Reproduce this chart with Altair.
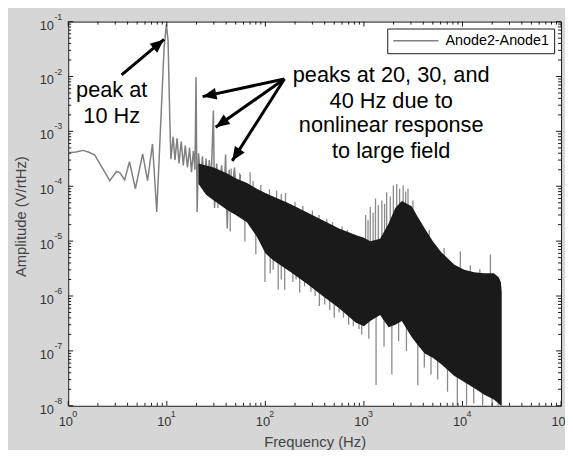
import altair as alt
import pandas as pd

FONT = "Liberation Sans"
INK = "#1a1a1a"
GRAYLINE = "#808080"

# ---- low-frequency trace (Hz, V/rtHz) ----
line_f = [1.0, 1.2, 1.42, 1.6, 1.86, 2.2, 2.64, 3.08, 3.35, 3.73, 4.18, 4.8, 5.69, 6.38,
          7.16, 7.91, 8.8, 9.4, 9.9, 10.3, 10.7, 11.0, 11.6, 12.1, 12.7, 13.3, 14.0, 14.7,
          15.4, 16.2, 17.0, 17.8, 18.6, 19.3, 19.8, 20.3, 21.0, 22.0, 23.0, 24.0, 25.0,
          26.0, 27.0, 28.0, 29.7, 30.5, 32.0, 34.0, 36.0, 38.0, 39.5, 41.0, 43.0, 45.0,
          48.6, 52.0, 56.0]
line_a = [4.1e-4, 4.2e-4, 4.5e-4, 4.2e-4, 3.7e-4, 2.2e-4, 1.26e-4, 1.86e-4, 1.75e-4, 1.3e-4,
          2.8e-4, 9e-5, 3.9e-4, 1.27e-4, 5.9e-4, 3.4e-5, 2.5e-3, 3.5e-2, 8.9e-2, 4.5e-2,
          2e-3, 3.1e-4, 8e-4, 3e-4, 7.5e-4, 2.6e-4, 6.5e-4, 2.4e-4, 5.5e-4, 2.2e-4, 5e-4,
          1.8e-4, 4.4e-4, 2e-4, 9.8e-3, 3.4e-5, 4e-4, 1.3e-4, 3.5e-4, 8e-5, 3.2e-4, 1.1e-4,
          3e-4, 9e-5, 2.4e-3, 4e-5, 2.6e-4, 7e-5, 2.4e-4, 6e-5, 3.8e-4, 1.7e-5, 2e-4, 5e-5,
          2.2e-4, 4e-5, 1.6e-4]

# ---- dense noise band: upper / lower envelope ----
band_f = [21, 25, 30, 41, 50, 65, 82, 100, 120, 177, 260, 382, 560, 824, 1000, 1160, 1460,
          1780, 2080, 2420, 3050, 3500, 4140, 5000, 6090, 8280, 10420, 13100, 16500, 20800,
          23300, 24500, 25000]
band_hi = [2.6e-4, 2.4e-4, 2.2e-4, 1.7e-4, 1.4e-4, 1.15e-4, 9e-5, 7.5e-5, 6.5e-5, 4.8e-5,
           3.4e-5, 2.4e-5, 1.7e-5, 1.3e-5, 1.15e-5, 1.0e-5, 1.1e-5, 2.1e-5, 4.0e-5, 5.4e-5,
           4.3e-5, 2.8e-5, 1.7e-5, 1.0e-5, 6.3e-6, 3.7e-6, 3.0e-6, 2.7e-6, 2.6e-6, 2.6e-6,
           2.2e-6, 1.8e-6, 1.2e-6]
band_lo = [1.1e-4, 7e-5, 5.5e-5, 3.7e-5, 3.0e-5, 2.2e-5, 1.2e-5, 6e-6, 4.5e-6, 2.8e-6,
           1.7e-6, 1.0e-6, 6e-7, 3.3e-7, 2.8e-7, 3.5e-7, 4.5e-7, 2.7e-7, 3e-7, 3.5e-7,
           1.8e-7, 1.3e-7, 9e-8, 7.5e-8, 5.7e-8, 3.5e-8, 2.7e-8, 2.1e-8, 1.6e-8, 1.3e-8,
           1.1e-8, 1.0e-8, 1.0e-8]

# ---- individual spikes sticking out of the band ----
spike_f = [33, 44, 62, 80, 99, 112, 120, 135, 145, 157, 190, 205, 223, 250, 290, 320, 353,
           400, 450, 500, 560, 620, 700, 780, 890, 950, 1120, 1328, 1600, 1920, 2250, 2700,
           3520, 4100, 4790, 5600, 7050, 8870, 11000, 13000, 16000, 20000, 23000,
           70, 130, 160, 1040, 1100, 1160, 1240, 1310, 1400, 1520, 1620, 1700, 1850, 1990,
           2150, 2300, 2500, 2650, 2800, 3140, 9500, 19200,
           45, 55, 75, 90, 110, 145, 200, 240, 300, 350, 420, 480, 600, 680, 4600, 6500,
           12000, 15000]
spike_top = [1.5e-4, 1e-4, 8e-5, 6e-5, 5e-5, 4e-5, 4e-5, 4e-5, 3e-5, 3e-5, 3e-5, 2.5e-5,
             2.5e-5, 2e-5, 2e-5, 1.5e-5, 1.5e-5, 1.2e-5, 1.2e-5, 1e-5, 1e-5, 8e-6, 8e-6,
             8e-6, 8e-6, 6e-6, 6e-6, 6e-6, 8e-6, 1e-5, 1.5e-5, 1e-5, 8e-6, 5e-6, 4e-6, 3e-6,
             2e-6, 1.5e-6, 1.5e-6, 1.2e-6, 1.2e-6, 1.2e-6, 1e-6,
             1.8e-4, 8.4e-5, 7.5e-5, 3e-5, 2.4e-5, 4.2e-5, 3.3e-5, 6e-5, 4.5e-5, 5.5e-5,
             4.8e-5, 7.8e-5, 6.5e-5, 1.03e-4, 1.1e-4, 9e-5, 1.03e-4, 8e-5, 9e-5, 5.5e-5,
             6.5e-6, 5.7e-6,
             2.1e-4, 1.75e-4, 1.25e-4, 1.05e-4, 8.8e-5, 7.2e-5, 5.2e-5, 4.4e-5, 3.6e-5,
             3.0e-5, 2.5e-5, 2.2e-5, 1.85e-5, 1.6e-5, 1.6e-5, 7.5e-6, 3.6e-6, 3.1e-6]
spike_bot = [4e-5, 1.5e-5, 9.8e-6, 5.7e-6, 1.8e-6, 2.6e-6, 3e-6, 1.3e-6, 2e-6, 1.3e-6,
             1.8e-6, 2e-6, 1.16e-6, 1.5e-6, 1.2e-6, 1e-6, 6.6e-7, 7e-7, 5.5e-7, 4e-7, 5e-7,
             4e-7, 3e-7, 2.8e-7, 2.5e-7, 2e-7, 1.66e-7, 2.4e-8, 1.2e-7, 3.7e-8, 1.5e-7,
             1e-7, 2.4e-8, 5e-8, 3.7e-8, 3e-8, 1.8e-8, 1e-8, 1e-8, 1.1e-8, 1e-8, 1e-8, 1e-8,
             5e-5, 2e-5, 2e-5, 5e-6, 5e-6, 5e-6, 5e-6, 5e-6, 5e-6, 5e-6, 5e-6, 5e-6, 5e-6,
             5e-6, 5e-6, 5e-6, 5e-6, 5e-6, 5e-6, 5e-6, 1e-6, 1e-6,
             5e-5, 5e-5, 3e-5, 2e-5, 1e-5, 1e-5, 5e-6, 5e-6, 5e-6, 3e-6, 3e-6, 2e-6, 2e-6,
             1e-6, 1e-6, 5e-7, 3e-7, 3e-7]

# ---- annotations ----
note_text = ["peak at", "10 Hz", "peaks at 20, 30, and", "40 Hz due to",
             "nonlinear response", "to large field"]
note_f = [2.76, 2.76, 1890, 1890, 1890, 1890]
note_a = [4.28e-3, 1.42e-3, 7.98e-3, 2.72e-3, 9.66e-4, 3.29e-4]

arrow_f0 = [3.48, 156, 156, 156]
arrow_a0 = [1.07e-2, 9.0e-3, 9.0e-3, 9.0e-3]
arrow_f1 = [9.37, 23.1, 31.3, 46.1]
arrow_a1 = [4.74e-2, 4.3e-3, 1.19e-3, 2.9e-4]
arrow_angle = [50, 258, 235, 213]

# ---- axis ticks ----
x_dec = [1, 10, 100, 1000, 10000, 100000]
x_exp = ["0", "1", "2", "3", "4", "5"]
y_dec = [1e-8, 1e-7, 1e-6, 1e-5, 1e-4, 1e-3, 1e-2, 1e-1]
y_exp = ["-8", "-7", "-6", "-5", "-4", "-3", "-2", "-1"]
x_minor = [m * d for d in x_dec[:-1] for m in range(2, 10)]
y_minor = [m * d for d in y_dec[:-1] for m in range(2, 10)]

W, H = 499, 389
xs = alt.Scale(type="log", domain=[1, 1e5])
ys = alt.Scale(type="log", domain=[1e-8, 1e-1])

XAX = alt.Axis(values=x_dec, labelExpr="'10'", labelPadding=10, labelBaseline="top",
               labelOffset=-3, labelOverlap=False, labelFlush=False, ticks=False,
               domain=False, grid=False, title="Frequency (Hz)", titleY=41,
               titleBaseline="alphabetic")
YAX = alt.Axis(values=y_dec, labelExpr="'10'", labelPadding=15, labelAlign="right",
               labelBaseline="middle", labelOffset=3.5, labelOverlap=False,
               labelFlush=False, ticks=False, domain=False, grid=False,
               title="Amplitude (V/rtHz)", titleX=-48, titleY=197, titleBaseline="middle")


def X(field):
    return alt.X(field, scale=xs, axis=XAX, title="Frequency (Hz)")


def Y(field):
    return alt.Y(field, scale=ys, axis=YAX, title="Amplitude (V/rtHz)")


line_df = pd.DataFrame({"f": line_f, "a": line_a, "series": "Anode2-Anode1"})
band_df = pd.DataFrame({"f": band_f, "hi": band_hi, "lo": band_lo})
spike_df = pd.DataFrame({"f": spike_f, "top": spike_top, "bot": spike_bot})
note_df = pd.DataFrame({"f": note_f, "a": note_a, "t": note_text})
arrow_df = pd.DataFrame({"f0": arrow_f0, "a0": arrow_a0, "f1": arrow_f1, "a1": arrow_a1,
                         "ang": arrow_angle})

spikes = alt.Chart(spike_df).mark_rule(color="#8a8a8a", strokeWidth=1.3, clip=True).encode(
    x=X("f:Q"), y=Y("top:Q"), y2="bot:Q",
)

line = alt.Chart(line_df).mark_line(strokeWidth=1.5, clip=True).encode(
    x=X("f:Q"), y=Y("a:Q"),
    color=alt.Color("series:N",
                    scale=alt.Scale(domain=["Anode2-Anode1"], range=[GRAYLINE]),
                    legend=alt.Legend(title=None, orient="none", legendX=323, legendY=7,
                                      fillColor="white", strokeColor=INK, padding=5,
                                      clipHeight=15, symbolType="stroke", symbolSize=2100,
                                      symbolStrokeWidth=1.5, labelFont=FONT,
                                      labelFontSize=14.5, labelColor="black",
                                      labelOffset=6, cornerRadius=0)),
)

band = alt.Chart(band_df).mark_area(color=INK, opacity=1, clip=True).encode(
    x=X("f:Q"), y=Y("hi:Q"), y2="lo:Q",
)

arrows = alt.Chart(arrow_df).mark_rule(color="black", strokeWidth=3).encode(
    x=X("f0:Q"), x2="f1:Q", y=Y("a0:Q"), y2="a1:Q",
)
heads = alt.Chart(arrow_df).mark_point(shape="M0,0L-0.42,1L0.42,1Z", filled=True,
                                       color="black", opacity=1, size=784).encode(
    x=X("f1:Q"), y=Y("a1:Q"), angle=alt.Angle("ang:Q", scale=None),
)

notes = alt.Chart(note_df).mark_text(font=FONT, fontSize=22, color="black", align="center",
                                     baseline="alphabetic").encode(
    x=X("f:Q"), y=Y("a:Q"), text="t:N",
)


def xticks(vals, at_top, length):
    y0, y1 = (0, length) if at_top else (H, H - length)
    return alt.Chart(pd.DataFrame({"f": vals})).mark_rule(color=INK, strokeWidth=1).encode(
        x=X("f:Q"), y=alt.value(y0), y2=alt.value(y1))


def yticks(vals, at_right, length):
    x0, x1 = (W, W - length) if at_right else (0, length)
    return alt.Chart(pd.DataFrame({"a": vals})).mark_rule(color=INK, strokeWidth=1).encode(
        y=Y("a:Q"), x=alt.value(x0), x2=alt.value(x1))


ticks = [xticks(x_dec, False, 5), xticks(x_minor, False, 3),
         xticks(x_dec, True, 5), xticks(x_minor, True, 3),
         yticks(y_dec, False, 5), yticks(y_minor, False, 3),
         yticks(y_dec, True, 5), yticks(y_minor, True, 3)]

xexp = alt.Chart(pd.DataFrame({"f": x_dec, "e": x_exp})).mark_text(
    font=FONT, fontSize=9, color="#333333", align="left", baseline="top", dx=4).encode(
    x=X("f:Q"), y=alt.value(H + 4), text="e:N")
yexp = alt.Chart(pd.DataFrame({"a": y_dec, "e": y_exp})).mark_text(
    font=FONT, fontSize=9, color="#333333", align="left", baseline="middle", dy=-5).encode(
    y=Y("a:Q"), x=alt.value(-14), text="e:N")

chart = alt.layer(spikes, line, band, arrows, heads, notes, *ticks, xexp, yexp).properties(
    width=W, height=H,
    padding={"left": 61, "top": 11, "right": 4, "bottom": 42},
    autosize=alt.AutoSizeParams(type="none"),
    background="#d6d6d6",
).configure_view(
    stroke=INK, strokeWidth=1, fill="white"
).configure_axis(
    labelFont=FONT, labelFontSize=13, labelColor="#333333",
    titleFont=FONT, titleFontSize=15, titleColor="#444444", titleFontWeight="normal",
)

chart.save("out.html", embed_options={"renderer": "svg", "actions": False})
